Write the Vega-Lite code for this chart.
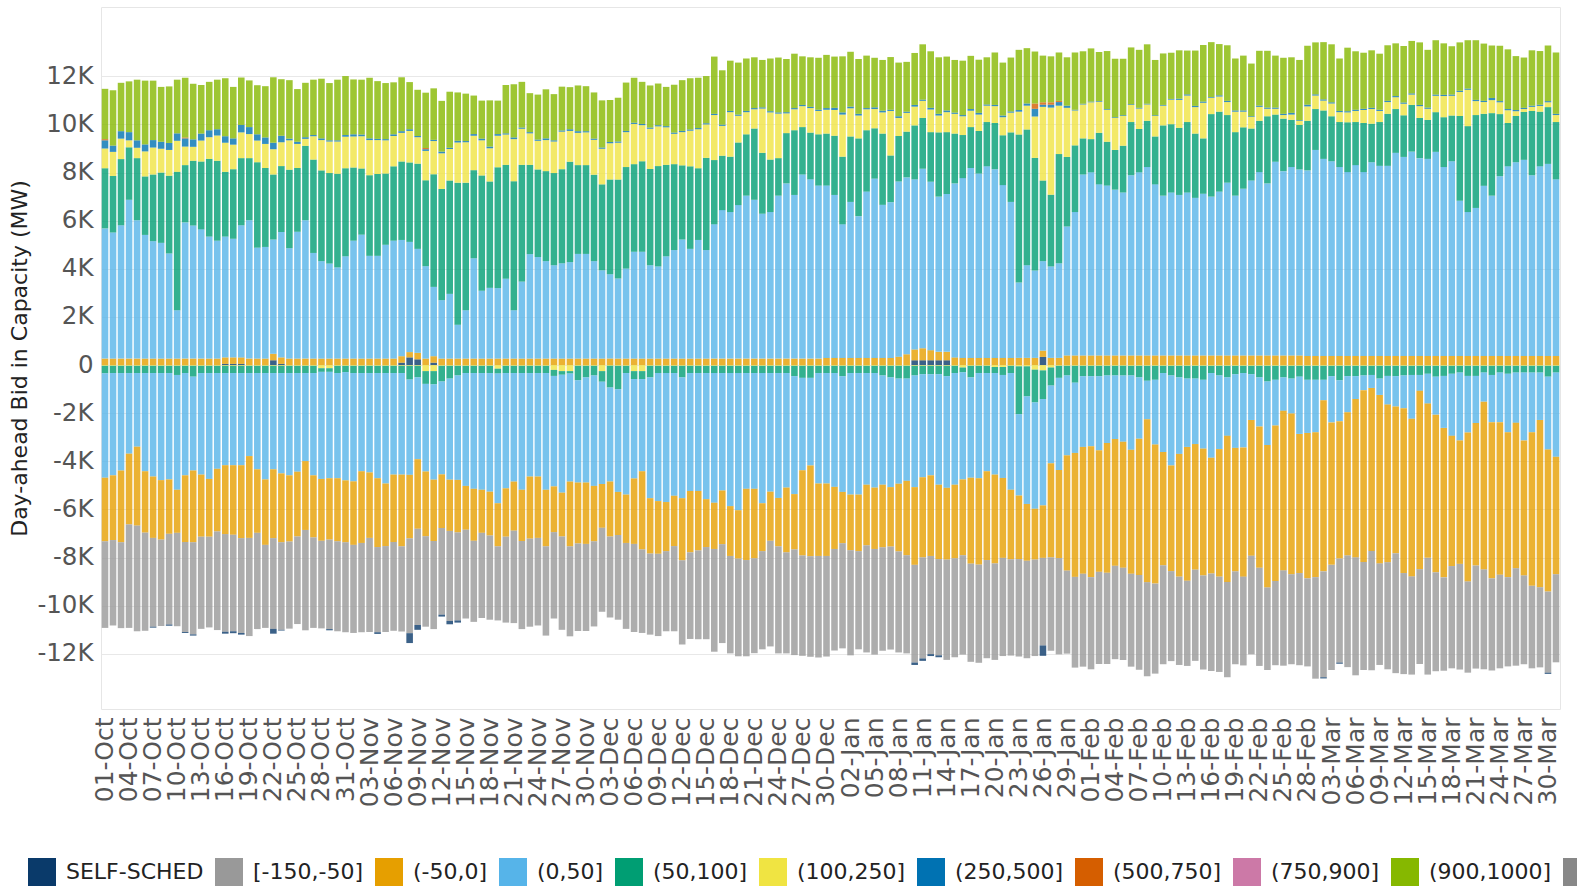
{
"$schema": "https://vega.github.io/schema/vega-lite/v6.json",
"width": 1459, "height": 702,
"autosize": {"type": "none"},
"padding": {"left": 101, "top": 7, "right": 17, "bottom": 179},
"background": "white",
"config": {"font": "DejaVu Sans", "view": {"stroke": "#e6e6e6"}},
"data": {"values": [
{"d":"01-Oct","o":270,"b":5410,"g":2500,"y":820,"c":340,"r":50,"l":2090,"ny":-30,"ng":-310,"nb":-4340,"no":-2640,"nr":-3600},
{"d":"02-Oct","o":270,"b":5240,"g":2350,"y":1000,"c":260,"l":2300,"ny":-30,"ng":-300,"nb":-4250,"no":-2690,"nr":-3550},
{"d":"03-Oct","o":270,"b":5540,"g":2750,"y":850,"c":310,"l":2010,"ny":-30,"ng":-300,"nb":-4050,"no":-2980,"nr":-3570},
{"d":"04-Oct","o":270,"b":6600,"g":2180,"y":290,"c":340,"l":2110,"ny":-30,"ng":-300,"nb":-3350,"no":-2940,"nr":-4300},
{"d":"05-Oct","o":270,"b":5750,"g":2580,"y":430,"c":310,"l":2520,"ny":-30,"ng":-300,"nb":-3060,"no":-3280,"nr":-4390},
{"d":"06-Oct","o":270,"b":5140,"g":2430,"y":1040,"c":290,"l":2650,"ny":-30,"ng":-300,"nb":-4080,"no":-2550,"nr":-4080},
{"d":"07-Oct","o":270,"b":4880,"g":2770,"y":1120,"c":310,"l":2470,"ny":-30,"ng":-300,"nb":-4300,"no":-2550,"nr":-3690,"ns":-40},
{"d":"08-Oct","o":270,"b":4810,"g":2920,"y":990,"c":290,"l":2280,"ny":-30,"ng":-300,"nb":-4450,"no":-2470,"nr":-3590},
{"d":"09-Oct","o":270,"b":4370,"g":3230,"y":1070,"c":290,"l":2350,"ny":-30,"ng":-300,"nb":-4420,"no":-2260,"nr":-3770,"ns":-50},
{"d":"10-Oct","o":270,"b":2010,"g":5750,"y":1290,"c":310,"l":2230,"ny":-30,"ng":-380,"nb":-4770,"no":-1790,"nr":-3880},
{"d":"11-Oct","o":270,"b":5660,"g":2380,"y":770,"c":340,"r":40,"l":2480,"ny":-30,"ng":-300,"nb":-4250,"no":-2770,"nr":-3740,"ns":-40},
{"d":"12-Oct","o":270,"b":5530,"g":2690,"y":580,"c":310,"l":2310,"ny":-30,"ng":-450,"nb":-3900,"no":-2980,"nr":-3830,"ns":-50},
{"d":"13-Oct","o":270,"b":5370,"g":2820,"y":870,"c":290,"l":2020,"ny":-30,"ng":-300,"nb":-4220,"no":-2580,"nr":-3830},
{"d":"14-Oct","o":270,"b":5070,"g":3230,"y":900,"c":290,"l":2010,"ny":-30,"ng":-300,"nb":-4400,"no":-2400,"nr":-3770},
{"d":"15-Oct","o":270,"b":4900,"g":3320,"y":1050,"c":260,"l":2060,"ny":-30,"ng":-300,"nb":-3980,"no":-2600,"nr":-4100},
{"d":"16-Oct","s":50,"o":270,"b":5020,"g":2690,"y":1210,"c":270,"l":2410,"ny":-30,"ng":-300,"nb":-3830,"no":-2860,"nr":-4060,"ns":-80},
{"d":"17-Oct","s":50,"o":270,"b":4930,"g":2890,"y":1020,"c":260,"l":2140,"ny":-30,"ng":-300,"nb":-3830,"no":-2890,"nr":-4010,"ns":-80},
{"d":"18-Oct","s":50,"o":270,"b":5490,"g":2790,"y":1070,"c":310,"l":1970,"ny":-30,"ng":-300,"nb":-3830,"no":-3030,"nr":-3940,"ns":-70},
{"d":"19-Oct","o":270,"b":5750,"g":2580,"y":1000,"c":290,"l":1940,"ny":-30,"ng":-300,"nb":-3450,"no":-3400,"nr":-4080},
{"d":"20-Oct","o":270,"b":4610,"g":3550,"y":900,"c":260,"l":2040,"ny":-30,"ng":-300,"nb":-4000,"no":-2640,"nr":-4000},
{"d":"21-Oct","o":270,"b":4640,"g":3280,"y":1000,"c":270,"l":2130,"ny":-30,"ng":-300,"nb":-4420,"no":-2720,"nr":-3450},
{"d":"22-Oct","s":200,"o":270,"b":4750,"g":2700,"y":1050,"c":270,"l":2720,"ny":-30,"ng":-300,"nb":-4000,"no":-2860,"nr":-3770,"ns":-200},
{"d":"23-Oct","s":50,"o":270,"b":5210,"g":2740,"y":990,"c":270,"l":2350,"ny":-30,"ng":-300,"nb":-4170,"no":-2860,"nr":-3640,"ns":-30},
{"d":"24-Oct","o":270,"b":4590,"g":3260,"y":1220,"c":70,"l":2430,"ny":-30,"ng":-300,"nb":-4250,"no":-2750,"nr":-3620},
{"d":"25-Oct","o":270,"b":5270,"g":2650,"y":1000,"c":90,"l":2190,"ny":-30,"ng":-300,"nb":-4100,"no":-2690,"nr":-3640},
{"d":"26-Oct","o":270,"b":5750,"g":3090,"y":290,"c":70,"l":2260,"ny":-30,"ng":-300,"nb":-3660,"no":-2860,"nr":-4170},
{"d":"27-Oct","o":270,"b":4390,"g":3880,"y":970,"c":50,"l":2300,"ny":-30,"ng":-300,"nb":-4250,"no":-2580,"nr":-3760},
{"d":"28-Oct","o":270,"b":4050,"g":3770,"y":1260,"c":70,"l":2480,"ny":-130,"ng":-150,"nb":-4450,"no":-2570,"nr":-3640},
{"d":"29-Oct","o":270,"b":3950,"g":3760,"y":1310,"c":50,"l":2380,"ny":-130,"ng":-150,"nb":-4420,"no":-2550,"nr":-3720,"ns":-50},
{"d":"30-Oct","o":270,"b":3790,"g":3890,"y":1340,"c":50,"l":2520,"ny":-30,"ng":-300,"nb":-4370,"no":-2620,"nr":-3740},
{"d":"31-Oct","o":270,"b":4250,"g":3660,"y":1310,"c":70,"l":2450,"ny":-30,"ng":-260,"nb":-4500,"no":-2570,"nr":-3740},
{"d":"01-Nov","o":270,"b":4900,"g":3040,"y":1290,"c":90,"l":2280,"ny":-30,"ng":-300,"nb":-4500,"no":-2640,"nr":-3660},
{"d":"02-Nov","o":270,"b":5150,"g":2750,"y":1340,"c":70,"l":2280,"ny":-30,"ng":-300,"nb":-4080,"no":-2980,"nr":-3710},
{"d":"03-Nov","o":270,"b":4270,"g":3350,"y":1460,"c":70,"l":2520,"ny":-30,"ng":-300,"nb":-4130,"no":-2720,"nr":-3910},
{"d":"04-Nov","o":270,"b":4270,"g":3400,"y":1410,"c":50,"l":2400,"ny":-30,"ng":-300,"nb":-4370,"no":-2860,"nr":-3540,"ns":-70},
{"d":"05-Nov","o":270,"b":4730,"g":2960,"y":1380,"c":50,"l":2330,"ny":-30,"ng":-300,"nb":-4590,"no":-2600,"nr":-3570},
{"d":"06-Nov","o":270,"b":4900,"g":3090,"y":1260,"c":70,"l":2160,"ny":-30,"ng":-300,"nb":-4220,"no":-2800,"nr":-3690},
{"d":"07-Nov","s":100,"o":270,"b":4830,"g":3260,"y":1190,"c":70,"l":2240,"ny":-30,"ng":-300,"nb":-4220,"no":-2980,"nr":-3540},
{"d":"08-Nov","s":320,"o":220,"b":4580,"g":3300,"y":1310,"c":70,"l":1960,"ny":-30,"ng":-570,"nb":-3960,"no":-2640,"nr":-3940,"ns":-410},
{"d":"09-Nov","s":240,"o":270,"b":4320,"g":3540,"y":1100,"c":50,"l":1920,"ny":-30,"ng":-480,"nb":-3400,"no":-2890,"nr":-4000,"ns":-200},
{"d":"10-Nov","o":270,"b":3840,"g":3570,"y":1220,"c":70,"r":50,"l":2300,"ny":-250,"ng":-530,"nb":-3640,"no":-2690,"nr":-3760},
{"d":"11-Nov","s":100,"o":270,"b":2880,"g":4680,"y":1380,"c":50,"l":2140,"ny":-250,"ng":-550,"nb":-3960,"no":-2550,"nr":-3660},
{"d":"12-Nov","o":270,"b":2430,"g":4620,"y":1480,"c":70,"l":2110,"ny":-30,"ng":-650,"nb":-3860,"no":-2230,"nr":-3600,"ns":-80},
{"d":"13-Nov","o":270,"b":2690,"g":4710,"y":1310,"c":50,"l":2330,"ny":-30,"ng":-530,"nb":-4200,"no":-2130,"nr":-3740,"ns":-140},
{"d":"14-Nov","o":270,"b":1410,"g":5900,"y":1670,"c":70,"l":2010,"ny":-30,"ng":-400,"nb":-4340,"no":-2180,"nr":-3660,"ns":-90},
{"d":"15-Nov","o":270,"b":2010,"g":5300,"y":1680,"c":50,"l":1970,"ny":-30,"ng":-300,"nb":-4690,"no":-1820,"nr":-3690},
{"d":"16-Nov","o":270,"b":4170,"g":3660,"y":1430,"c":70,"l":1600,"ny":-30,"ng":-300,"nb":-4810,"no":-2160,"nr":-3370},
{"d":"17-Nov","o":270,"b":2820,"g":4790,"y":1460,"c":70,"l":1580,"ny":-30,"ng":-300,"nb":-4850,"no":-1790,"nr":-3540},
{"d":"18-Nov","o":270,"b":2940,"g":4420,"y":1380,"c":70,"l":1920,"ny":-30,"ng":-300,"nb":-4930,"no":-1820,"nr":-3500},
{"d":"19-Nov","o":270,"b":2930,"g":5020,"y":1310,"c":70,"l":1390,"ny":-150,"ng":-200,"nb":-5390,"no":-1790,"nr":-3080},
{"d":"20-Nov","o":270,"b":3320,"g":4730,"y":1260,"c":50,"l":2010,"ny":-30,"ng":-300,"nb":-4790,"no":-2010,"nr":-3570},
{"d":"21-Nov","o":270,"b":2010,"g":5360,"y":1750,"c":70,"l":2210,"ny":-30,"ng":-300,"nb":-4510,"no":-2040,"nr":-3840},
{"d":"22-Nov","o":270,"b":3200,"g":4850,"y":1500,"c":50,"l":1900,"ny":-30,"ng":-300,"nb":-4850,"no":-2130,"nr":-3660},
{"d":"23-Nov","o":270,"b":4340,"g":3710,"y":1310,"c":50,"l":1620,"ny":-30,"ng":-300,"nb":-4300,"no":-2580,"nr":-3660},
{"d":"24-Nov","o":270,"b":4220,"g":3640,"y":1190,"c":50,"l":1870,"ny":-30,"ng":-300,"nb":-4300,"no":-2550,"nr":-3640},
{"d":"25-Nov","o":270,"b":4050,"g":3740,"y":1290,"c":70,"l":2040,"ny":-30,"ng":-300,"nb":-4850,"no":-2350,"nr":-3710},
{"d":"26-Nov","o":270,"b":3880,"g":3830,"y":1310,"c":50,"l":1920,"ny":-200,"ng":-250,"nb":-4590,"no":-1900,"nr":-3590},
{"d":"27-Nov","o":270,"b":3960,"g":3910,"y":1560,"c":50,"l":1820,"ny":-250,"ng":-150,"nb":-4900,"no":-1820,"nr":-3880},
{"d":"28-Nov","o":270,"b":4010,"g":4170,"y":1280,"c":70,"l":1750,"ny":-250,"ng":-100,"nb":-4490,"no":-2690,"nr":-3740},
{"d":"29-Nov","o":270,"b":4350,"g":3690,"y":1340,"c":70,"l":1900,"ny":-30,"ng":-600,"nb":-4250,"no":-2530,"nr":-3640},
{"d":"30-Nov","o":270,"b":4350,"g":3690,"y":1360,"c":50,"l":1870,"ny":-30,"ng":-480,"nb":-4370,"no":-2550,"nr":-3620},
{"d":"01-Dec","o":270,"b":4050,"g":3590,"y":1450,"c":50,"l":1920,"ny":-30,"ng":-400,"nb":-4590,"no":-2300,"nr":-3540},
{"d":"02-Dec","o":270,"b":3670,"g":3570,"y":1480,"c":50,"l":1960,"ny":-250,"ng":-440,"nb":-4250,"no":-1820,"nr":-3490},
{"d":"03-Dec","o":270,"b":3500,"g":3940,"y":1510,"c":50,"l":1750,"ny":-30,"ng":-900,"nb":-3910,"no":-2280,"nr":-3370},
{"d":"04-Dec","o":270,"b":3330,"g":4110,"y":1530,"c":50,"l":1820,"ny":-30,"ng":-970,"nb":-4270,"no":-1790,"nr":-3520},
{"d":"05-Dec","o":270,"b":3740,"g":4220,"y":1450,"c":50,"l":2010,"ny":-30,"ng":-300,"nb":-5050,"no":-2010,"nr":-3570},
{"d":"06-Dec","o":270,"b":4440,"g":3640,"y":1670,"c":50,"l":1870,"ny":-250,"ng":-330,"nb":-4130,"no":-2720,"nr":-3660},
{"d":"07-Dec","o":270,"b":4440,"g":3760,"y":1500,"c":50,"l":1750,"ny":-250,"ng":-330,"nb":-3830,"no":-3250,"nr":-3470},
{"d":"08-Dec","o":270,"b":3880,"g":4000,"y":1670,"c":50,"l":1750,"ny":-30,"ng":-480,"nb":-5020,"no":-2300,"nr":-3370},
{"d":"09-Dec","o":270,"b":3830,"g":4170,"y":1650,"c":50,"l":1730,"ny":-30,"ng":-300,"nb":-5320,"no":-2190,"nr":-3420},
{"d":"10-Dec","o":270,"b":4250,"g":3800,"y":1560,"c":50,"l":1630,"ny":-30,"ng":-300,"nb":-5360,"no":-2040,"nr":-3330},
{"d":"11-Dec","o":270,"b":4510,"g":3570,"y":1260,"c":50,"l":1990,"ny":-30,"ng":-300,"nb":-5100,"no":-2090,"nr":-3540},
{"d":"12-Dec","o":270,"b":4950,"g":3080,"y":1380,"c":50,"l":2110,"ny":-30,"ng":-480,"nb":-5020,"no":-2580,"nr":-3500},
{"d":"13-Dec","o":270,"b":4560,"g":3430,"y":1480,"c":50,"l":2130,"ny":-30,"ng":-300,"nb":-4900,"no":-2550,"nr":-3600},
{"d":"14-Dec","o":270,"b":4930,"g":2980,"y":1620,"c":50,"l":2090,"ny":-30,"ng":-300,"nb":-4900,"no":-2470,"nr":-3690},
{"d":"15-Dec","o":270,"b":4510,"g":3830,"y":1390,"c":50,"l":1960,"ny":-30,"ng":-300,"nb":-5240,"no":-1990,"nr":-3830},
{"d":"16-Dec","o":270,"b":5580,"g":2670,"y":1870,"c":50,"l":2380,"ny":-30,"ng":-300,"nb":-5390,"no":-1920,"nr":-4270},
{"d":"17-Dec","o":270,"b":6170,"g":2260,"y":1240,"c":50,"l":2260,"ny":-30,"ng":-300,"nb":-4880,"no":-2230,"nr":-4110},
{"d":"18-Dec","o":270,"b":6090,"g":2300,"y":1850,"c":50,"l":2090,"ny":-30,"ng":-300,"nb":-5530,"no":-2070,"nr":-4050},
{"d":"19-Dec","o":270,"b":6380,"g":2600,"y":1110,"c":50,"l":2160,"ny":-30,"ng":-300,"nb":-5700,"no":-2010,"nr":-4060},
{"d":"20-Dec","o":270,"b":6770,"g":2550,"y":920,"c":50,"l":2180,"ny":-30,"ng":-300,"nb":-4810,"no":-2960,"nr":-4000},
{"d":"21-Dec","o":270,"b":6600,"g":2960,"y":800,"c":50,"l":2110,"ny":-30,"ng":-300,"nb":-4810,"no":-2890,"nr":-3940},
{"d":"22-Dec","o":270,"b":6020,"g":2530,"y":1840,"c":50,"l":1970,"ny":-30,"ng":-300,"nb":-5410,"no":-1990,"nr":-4080},
{"d":"23-Dec","o":270,"b":6090,"g":2180,"y":1960,"c":50,"l":2190,"ny":-30,"ng":-300,"nb":-4930,"no":-2040,"nr":-4390},
{"d":"24-Dec","o":270,"b":6770,"g":1560,"y":1850,"c":50,"l":2280,"ny":-30,"ng":-300,"nb":-5190,"no":-2010,"nr":-4450},
{"d":"25-Dec","o":270,"b":7280,"g":2090,"y":820,"c":50,"l":2210,"ny":-30,"ng":-300,"nb":-4760,"no":-2690,"nr":-4200},
{"d":"26-Dec","o":270,"b":6800,"g":2690,"y":870,"c":50,"l":2260,"ny":-30,"ng":-430,"nb":-4900,"no":-2300,"nr":-4390},
{"d":"27-Dec","o":270,"b":7650,"g":1970,"y":870,"c":50,"l":2020,"ny":-30,"ng":-500,"nb":-3840,"no":-3540,"nr":-4170},
{"d":"28-Dec","o":270,"b":7450,"g":1940,"y":1020,"c":50,"l":2060,"ny":-30,"ng":-500,"nb":-3640,"no":-3770,"nr":-4180},
{"d":"29-Dec","o":270,"b":7190,"g":2130,"y":970,"c":50,"l":2160,"ny":-30,"ng":-300,"nb":-4590,"no":-3010,"nr":-4220},
{"d":"30-Dec","o":300,"b":7160,"g":2160,"y":990,"c":70,"l":2210,"ny":-30,"ng":-300,"nb":-4590,"no":-3010,"nr":-4180},
{"d":"31-Dec","o":300,"b":6770,"g":2460,"y":1070,"c":90,"l":2130,"ny":-30,"ng":-300,"nb":-4730,"no":-2580,"nr":-4220},
{"d":"01-Jan","o":300,"b":5550,"g":2810,"y":1750,"c":90,"l":2330,"ny":-30,"ng":-430,"nb":-4810,"no":-2130,"nr":-4370},
{"d":"02-Jan","o":300,"b":6480,"g":2720,"y":1170,"c":70,"l":2280,"ny":-30,"ng":-300,"nb":-5050,"no":-2310,"nr":-4370},
{"d":"03-Jan","o":300,"b":5890,"g":3230,"y":950,"c":70,"l":2280,"ny":-30,"ng":-300,"nb":-5050,"no":-2350,"nr":-4080},
{"d":"04-Jan","o":300,"b":6910,"g":2550,"y":870,"c":50,"l":2180,"ny":-30,"ng":-300,"nb":-4640,"no":-2520,"nr":-4450},
{"d":"05-Jan","o":300,"b":7450,"g":2090,"y":800,"c":70,"l":2060,"ny":-30,"ng":-300,"nb":-4760,"no":-2550,"nr":-4390},
{"d":"06-Jan","o":300,"b":6360,"g":2960,"y":880,"c":70,"l":2110,"ny":-30,"ng":-400,"nb":-4540,"no":-2600,"nr":-4300},
{"d":"07-Jan","o":300,"b":6470,"g":1940,"y":1850,"c":50,"l":2190,"ny":-30,"ng":-480,"nb":-4560,"no":-2470,"nr":-4280},
{"d":"08-Jan","o":350,"b":7280,"g":1890,"y":750,"c":70,"l":2230,"ny":-30,"ng":-530,"nb":-4370,"no":-2810,"nr":-4200},
{"d":"09-Jan","o":450,"b":7350,"g":1900,"y":780,"c":50,"l":2070,"ny":-30,"ng":-530,"nb":-4250,"no":-3090,"nr":-4080},
{"d":"10-Jan","s":200,"o":450,"b":7070,"g":2240,"y":780,"c":70,"l":2160,"ny":-30,"ng":-400,"nb":-4640,"no":-3230,"nr":-4060,"ns":-100},
{"d":"11-Jan","s":200,"o":500,"b":7460,"g":2110,"y":710,"c":50,"l":2300,"ny":-30,"ng":-350,"nb":-4280,"no":-3330,"nr":-4200,"ns":-100},
{"d":"12-Jan","s":200,"o":420,"b":7000,"g":2060,"y":940,"c":70,"l":2350,"ny":-30,"ng":-350,"nb":-4200,"no":-3350,"nr":-4080,"ns":-80},
{"d":"13-Jan","s":200,"o":350,"b":6450,"g":2670,"y":700,"c":70,"l":2350,"ny":-30,"ng":-350,"nb":-4590,"no":-3090,"nr":-4000,"ns":-80},
{"d":"14-Jan","s":200,"o":350,"b":6560,"g":2570,"y":830,"c":70,"l":2240,"ny":-30,"ng":-430,"nb":-4640,"no":-2980,"nr":-4170},
{"d":"15-Jan","o":320,"b":7230,"g":2070,"y":820,"c":50,"l":2190,"ny":-30,"ng":-300,"nb":-4640,"no":-3060,"nr":-4110},
{"d":"16-Jan","o":300,"b":7470,"g":1790,"y":780,"c":50,"l":2260,"ny":-100,"ng":-200,"nb":-4450,"no":-3150,"nr":-4130},
{"d":"17-Jan","o":300,"b":7890,"g":1700,"y":680,"c":70,"l":2210,"ny":-30,"ng":-480,"nb":-4170,"no":-3570,"nr":-4080},
{"d":"18-Jan","o":300,"b":7660,"g":1770,"y":680,"c":70,"l":2210,"ny":-30,"ng":-300,"nb":-4370,"no":-3590,"nr":-4080},
{"d":"19-Jan","o":300,"b":7960,"g":1840,"y":680,"c":50,"l":1960,"ny":-30,"ng":-300,"nb":-4080,"no":-3690,"nr":-4080},
{"d":"20-Jan","o":300,"b":7840,"g":1920,"y":700,"c":50,"l":2180,"ny":-80,"ng":-250,"nb":-4220,"no":-3690,"nr":-4010},
{"d":"21-Jan","o":300,"b":7180,"g":2070,"y":750,"c":70,"l":2200,"ny":-80,"ng":-330,"nb":-4280,"no":-3320,"nr":-4080},
{"d":"22-Jan","o":300,"b":6480,"g":2890,"y":820,"c":50,"l":2240,"ny":-30,"ng":-300,"nb":-4850,"no":-2890,"nr":-4000},
{"d":"23-Jan","o":300,"b":3130,"g":6150,"y":950,"c":70,"l":2500,"ny":-50,"ng":-1990,"nb":-3380,"no":-2640,"nr":-4050},
{"d":"24-Jan","o":300,"b":3850,"g":5640,"y":990,"c":90,"l":2300,"ny":-50,"ng":-1250,"nb":-4470,"no":-2360,"nr":-4050},
{"d":"25-Jan","o":300,"b":3630,"g":4680,"y":1720,"c":320,"r":220,"l":2160,"ny":-190,"ng":-1360,"nb":-4420,"no":-2110,"nr":-4010},
{"d":"26-Jan","s":340,"o":260,"b":3720,"g":3350,"y":3060,"c":90,"r":100,"l":1940,"ny":-220,"ng":-1190,"nb":-4420,"no":-2180,"nr":-3640,"ns":-430},
{"d":"27-Jan","o":300,"b":3800,"g":2980,"y":3620,"c":120,"r":100,"l":1910,"ny":-100,"ng":-750,"nb":-3230,"no":-3910,"nr":-3880},
{"d":"28-Jan","o":300,"b":3930,"g":4540,"y":2010,"c":150,"r":50,"l":2010,"ny":-30,"ng":-500,"nb":-3830,"no":-3660,"nr":-4000},
{"d":"29-Jan","o":400,"b":5360,"g":2890,"y":2040,"c":90,"l":2010,"ny":-30,"ng":-400,"nb":-3320,"no":-4790,"nr":-3450},
{"d":"30-Jan","o":400,"b":5960,"g":2770,"y":1450,"c":30,"l":2380,"ny":-30,"ng":-700,"nb":-2920,"no":-5150,"nr":-3770},
{"d":"31-Jan","o":400,"b":7520,"g":1500,"y":1410,"c":30,"l":2180,"ny":-30,"ng":-430,"nb":-2940,"no":-5270,"nr":-3860},
{"d":"01-Feb","o":400,"b":7610,"g":1380,"y":1530,"c":30,"l":2210,"ny":-30,"ng":-430,"nb":-2910,"no":-5440,"nr":-3830},
{"d":"02-Feb","o":400,"b":7110,"g":2140,"y":1290,"c":30,"l":2040,"ny":-30,"ng":-430,"nb":-3080,"no":-5050,"nr":-3830},
{"d":"03-Feb","o":400,"b":7060,"g":1820,"y":1330,"c":30,"l":2410,"ny":-30,"ng":-400,"nb":-2810,"no":-5390,"nr":-3790},
{"d":"04-Feb","o":400,"b":6890,"g":1650,"y":1330,"c":30,"l":2430,"ny":-30,"ng":-400,"nb":-2640,"no":-5270,"nr":-3880},
{"d":"05-Feb","o":400,"b":6770,"g":1940,"y":1240,"c":30,"l":2350,"ny":-30,"ng":-400,"nb":-2750,"no":-5240,"nr":-3830},
{"d":"06-Feb","o":400,"b":7490,"g":2210,"y":710,"c":30,"l":2360,"ny":-30,"ng":-400,"nb":-3090,"no":-5150,"nr":-3860},
{"d":"07-Feb","o":400,"b":7610,"g":1800,"y":850,"c":30,"l":2410,"ny":-30,"ng":-480,"nb":-2550,"no":-5660,"nr":-3940},
{"d":"08-Feb","o":400,"b":7830,"g":1920,"y":680,"c":30,"l":2470,"ny":-30,"ng":-620,"nb":-1600,"no":-6770,"nr":-3910},
{"d":"09-Feb","o":400,"b":7110,"g":1990,"y":850,"c":30,"l":2300,"ny":-30,"ng":-580,"nb":-2690,"no":-5780,"nr":-3740},
{"d":"10-Feb","o":400,"b":6640,"g":2920,"y":820,"c":30,"l":2140,"ny":-30,"ng":-300,"nb":-3280,"no":-4710,"nr":-4110},
{"d":"11-Feb","o":400,"b":6770,"g":2840,"y":1020,"c":30,"l":1920,"ny":-30,"ng":-400,"nb":-3740,"no":-4390,"nr":-3740},
{"d":"12-Feb","o":400,"b":6670,"g":2790,"y":1160,"c":50,"l":2010,"ny":-30,"ng":-480,"nb":-3180,"no":-5100,"nr":-3670},
{"d":"13-Feb","o":400,"b":6770,"g":2930,"y":1100,"c":50,"l":1820,"ny":-30,"ng":-530,"nb":-2840,"no":-5560,"nr":-3540},
{"d":"14-Feb","o":400,"b":6550,"g":2670,"y":1100,"c":50,"l":2300,"ny":-30,"ng":-530,"nb":-2720,"no":-5220,"nr":-3790},
{"d":"15-Feb","o":400,"b":6720,"g":2300,"y":1480,"c":50,"l":2350,"ny":-30,"ng":-580,"nb":-2860,"no":-5270,"nr":-3910},
{"d":"16-Feb","o":400,"b":6600,"g":3430,"y":680,"c":30,"l":2280,"ny":-30,"ng":-300,"nb":-3520,"no":-4810,"nr":-4050},
{"d":"17-Feb","o":400,"b":6810,"g":3320,"y":630,"c":50,"l":2130,"ny":-30,"ng":-400,"nb":-3060,"no":-5300,"nr":-3960},
{"d":"18-Feb","o":400,"b":7180,"g":2810,"y":540,"c":50,"l":2310,"ny":-30,"ng":-480,"nb":-2430,"no":-6070,"nr":-3960},
{"d":"19-Feb","o":400,"b":6640,"g":2640,"y":850,"c":50,"l":2160,"ny":-30,"ng":-350,"nb":-3060,"no":-5130,"nr":-3860},
{"d":"20-Feb","o":400,"b":6930,"g":2550,"y":650,"c":50,"l":2280,"ny":-30,"ng":-300,"nb":-3090,"no":-5370,"nr":-3690},
{"d":"21-Feb","o":400,"b":7270,"g":2160,"y":480,"c":30,"l":2190,"ny":-30,"ng":-350,"nb":-1900,"no":-5640,"nr":-4100},
{"d":"22-Feb","o":400,"b":7620,"g":2130,"y":580,"c":50,"l":2280,"ny":-30,"ng":-480,"nb":-2040,"no":-5870,"nr":-4080},
{"d":"23-Feb","o":400,"b":7150,"g":2790,"y":310,"c":50,"l":2360,"ny":-30,"ng":-650,"nb":-2640,"no":-5920,"nr":-3430},
{"d":"24-Feb","o":400,"b":8050,"g":1960,"y":240,"c":50,"l":2160,"ny":-30,"ng":-580,"nb":-1900,"no":-6460,"nr":-3500},
{"d":"25-Feb","o":400,"b":7660,"g":2180,"y":150,"c":50,"l":2330,"ny":-30,"ng":-480,"nb":-1390,"no":-6630,"nr":-3960},
{"d":"26-Feb","o":400,"b":7830,"g":1960,"y":220,"c":70,"l":2310,"ny":-30,"ng":-530,"nb":-1450,"no":-6680,"nr":-3740},
{"d":"27-Feb","o":400,"b":7730,"g":1850,"y":170,"c":30,"l":2500,"ny":-30,"ng":-450,"nb":-2380,"no":-5780,"nr":-3830},
{"d":"28-Feb","o":380,"b":7710,"g":2060,"y":600,"c":70,"l":2450,"ny":-30,"ng":-580,"nb":-2210,"no":-6040,"nr":-3660},
{"d":"01-Mar","o":380,"b":8560,"g":1700,"y":560,"c":50,"l":2160,"ny":-30,"ng":-580,"nb":-2180,"no":-6020,"nr":-4220},
{"d":"02-Mar","o":380,"b":8190,"g":2010,"y":410,"c":50,"l":2380,"ny":-30,"ng":-580,"nb":-850,"no":-7110,"nr":-4400,"ns":-50},
{"d":"03-Mar","o":380,"b":8090,"g":1870,"y":530,"c":50,"l":2410,"ny":-30,"ng":-430,"nb":-1920,"no":-5920,"nr":-4370},
{"d":"04-Mar","o":380,"b":7850,"g":1870,"y":410,"c":50,"l":2180,"ny":-30,"ng":-600,"nb":-1700,"no":-5710,"nr":-4320,"ns":-50},
{"d":"05-Mar","o":380,"b":7640,"g":2070,"y":410,"c":50,"l":2640,"ny":-30,"ng":-430,"nb":-1500,"no":-5950,"nr":-4640},
{"d":"06-Mar","o":380,"b":7930,"g":1790,"y":460,"c":50,"l":2430,"ny":-30,"ng":-430,"nb":-950,"no":-6580,"nr":-4900},
{"d":"07-Mar","o":380,"b":7640,"g":2040,"y":540,"c":50,"l":2330,"ny":-30,"ng":-400,"nb":-610,"no":-7140,"nr":-4490},
{"d":"08-Mar","o":380,"b":8050,"g":1600,"y":610,"c":50,"l":2390,"ny":-30,"ng":-380,"nb":-540,"no":-6770,"nr":-4960},
{"d":"09-Mar","o":380,"b":7900,"g":1820,"y":460,"c":50,"l":2330,"ny":-30,"ng":-530,"nb":-680,"no":-7000,"nr":-4220},
{"d":"10-Mar","o":380,"b":7900,"g":2160,"y":490,"c":50,"l":2310,"ny":-30,"ng":-420,"nb":-1190,"no":-6550,"nr":-4450},
{"d":"11-Mar","o":380,"b":8440,"g":1820,"y":490,"c":50,"l":2190,"ny":-30,"ng":-430,"nb":-1260,"no":-6100,"nr":-4980},
{"d":"12-Mar","o":380,"b":8270,"g":1730,"y":480,"c":50,"l":2350,"ny":-30,"ng":-400,"nb":-1360,"no":-6850,"nr":-4200},
{"d":"13-Mar","o":380,"b":8490,"g":1940,"y":430,"c":50,"l":2180,"ny":-30,"ng":-380,"nb":-1820,"no":-6550,"nr":-4080},
{"d":"14-Mar","o":380,"b":8220,"g":1670,"y":490,"c":50,"l":2600,"ny":-30,"ng":-380,"nb":-660,"no":-7410,"nr":-3940},
{"d":"15-Mar","o":380,"b":8190,"g":1620,"y":460,"c":50,"l":2400,"ny":-30,"ng":-330,"nb":-1240,"no":-6410,"nr":-4850},
{"d":"16-Mar","o":380,"b":8480,"g":1650,"y":680,"c":50,"l":2260,"ny":-30,"ng":-450,"nb":-1580,"no":-6550,"nr":-4110},
{"d":"17-Mar","o":380,"b":7850,"g":2070,"y":880,"c":50,"l":2140,"ny":-30,"ng":-420,"nb":-2160,"no":-6210,"nr":-3880},
{"d":"18-Mar","o":380,"b":8090,"g":1900,"y":820,"c":50,"l":2010,"ny":-30,"ng":-330,"nb":-2580,"no":-5410,"nr":-4250},
{"d":"19-Mar","o":380,"b":6450,"g":3520,"y":1000,"c":50,"l":2010,"ny":-30,"ng":-280,"nb":-2820,"no":-5130,"nr":-4390},
{"d":"20-Mar","o":380,"b":5980,"g":3570,"y":1510,"c":50,"l":2010,"ny":-30,"ng":-420,"nb":-2350,"no":-6190,"nr":-3790},
{"d":"21-Mar","o":380,"b":6150,"g":3860,"y":580,"c":50,"l":2480,"ny":-30,"ng":-420,"nb":-1960,"no":-5920,"nr":-4280},
{"d":"22-Mar","o":380,"b":7070,"g":2990,"y":490,"c":50,"l":2380,"ny":-30,"ng":-280,"nb":-1210,"no":-6970,"nr":-4150},
{"d":"23-Mar","o":380,"b":6660,"g":3430,"y":540,"c":90,"l":2180,"ny":-30,"ng":-380,"nb":-1960,"no":-6490,"nr":-3830},
{"d":"24-Mar","o":380,"b":7470,"g":2580,"y":490,"c":50,"l":2300,"ny":-30,"ng":-280,"nb":-2060,"no":-6340,"nr":-3890},
{"d":"25-Mar","o":380,"b":7880,"g":1800,"y":530,"c":50,"l":2480,"ny":-30,"ng":-330,"nb":-2430,"no":-6020,"nr":-3710},
{"d":"26-Mar","o":380,"b":8050,"g":1920,"y":200,"c":50,"l":2240,"ny":-30,"ng":-280,"nb":-2090,"no":-6040,"nr":-4050},
{"d":"27-Mar","o":380,"b":8150,"g":1990,"y":120,"c":50,"l":2090,"ny":-30,"ng":-280,"nb":-2820,"no":-5610,"nr":-3690},
{"d":"28-Mar","o":380,"b":7510,"g":2670,"y":170,"c":50,"l":2300,"ny":-30,"ng":-280,"nb":-2480,"no":-6380,"nr":-3430},
{"d":"29-Mar","o":380,"b":7880,"g":2270,"y":240,"c":50,"l":2230,"ny":-30,"ng":-280,"nb":-1970,"no":-6950,"nr":-3330},
{"d":"30-Mar","o":380,"b":7980,"g":2360,"y":200,"c":50,"l":2310,"ny":-30,"ng":-450,"nb":-3030,"no":-5900,"nr":-3370,"ns":-50},
{"d":"31-Mar","o":380,"b":7340,"g":2380,"y":290,"c":50,"l":2550,"ny":-30,"ng":-280,"nb":-3500,"no":-4880,"nr":-3660}
]},
"transform": [
{"fold": ["s","o","b","g","y","c","r","l","ny","ng","nb","no","nr","ns"], "as": ["k","v"]},
{"filter": "isValid(datum.v) && datum.v != 0"},
{"calculate": "indexof(['s','o','b','g','y','c','r','l','ny','ng','nb','no','nr','ns'], datum.k)", "as": "i"},
{"calculate": "['SELF-SCHED','(-50,0]','(0,50]','(50,100]','(100,250]','(250,500]','(500,750]','(900,1000]','(100,250]','(50,100]','(0,50]','(-50,0]','[-150,-50]','SELF-SCHED'][datum.i]", "as": "bin"}
],
"mark": {"type": "bar", "opacity": 0.8},
"encoding": {
"x": {"field": "d", "type": "ordinal", "sort": null,
 "scale": {"paddingInner": 0.18, "paddingOuter": 0.09},
 "axis": {"title": null, "labelAngle": -90, "labelFontSize": 25, "labelColor": "#555", "ticks": false, "domain": false, "labelPadding": 8, "labelOverlap": false,
 "values": ["01-Oct","04-Oct","07-Oct","10-Oct","13-Oct","16-Oct","19-Oct","22-Oct","25-Oct","28-Oct","31-Oct","03-Nov","06-Nov","09-Nov","12-Nov","15-Nov","18-Nov","21-Nov","24-Nov","27-Nov","30-Nov","03-Dec","06-Dec","09-Dec","12-Dec","15-Dec","18-Dec","21-Dec","24-Dec","27-Dec","30-Dec","02-Jan","05-Jan","08-Jan","11-Jan","14-Jan","17-Jan","20-Jan","23-Jan","26-Jan","29-Jan","01-Feb","04-Feb","07-Feb","10-Feb","13-Feb","16-Feb","19-Feb","22-Feb","25-Feb","28-Feb","03-Mar","06-Mar","09-Mar","12-Mar","15-Mar","18-Mar","21-Mar","24-Mar","27-Mar","30-Mar"]}},
"y": {"field": "v", "type": "quantitative", "stack": "zero",
 "scale": {"domain": [-14290, 14880], "nice": false, "zero": false},
 "axis": {"title": "Day-ahead Bid in Capacity (MW)", "values": [-12000,-10000,-8000,-6000,-4000,-2000,0,2000,4000,6000,8000,10000,12000],
 "labelExpr": "datum.value == 0 ? '0' : (datum.value < 0 ? '-' : '') + abs(datum.value)/1000 + 'K'",
 "labelFontSize": 24.5, "labelColor": "#555", "ticks": false, "domain": false, "labelPadding": 8, "gridColor": "#e8e8e8",
 "titleFontSize": 22, "titleFontWeight": "normal", "titleColor": "#222", "titlePadding": 5}},
"color": {"field": "bin", "type": "nominal",
 "scale": {"domain": ["SELF-SCHED","[-150,-50]","(-50,0]","(0,50]","(50,100]","(100,250]","(250,500]","(500,750]","(750,900]","(900,1000]","(1000,2000]"],
 "range": ["#0A3A6A","#999999","#E69F00","#56B4E9","#009E73","#F0E442","#0072B2","#D55E00","#CC79A7","#86B800","#888888"]},
 "legend": {"title": null, "orient": "none", "legendX": -73, "legendY": 851, "direction": "horizontal", "columns": 11,
 "symbolType": "square", "symbolSize": 784, "symbolOpacity": 1, "symbolStrokeWidth": 0,
 "labelFontSize": 22, "labelColor": "#222", "labelOffset": 10, "columnPadding": 11, "labelLimit": 0}},
"order": {"field": "i", "type": "quantitative"}
}
}
